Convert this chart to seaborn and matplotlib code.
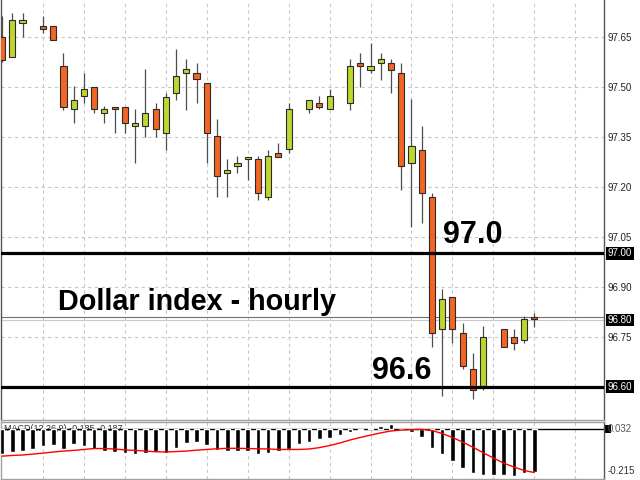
import numpy as np
import pandas as pd
import seaborn as sns
import matplotlib.pyplot as plt
import matplotlib.transforms as mtransforms
from matplotlib.patches import Rectangle

nan = np.nan

# hourly candles (gaps where the feed has no bar)
opens = [97.650, 97.590, 97.690, nan, 97.682, 97.682, 97.562, 97.432, 97.472, 97.500,
         97.422, 97.440, 97.440, 97.382, 97.382, 97.432, 97.360, 97.482, 97.542, 97.542,
         97.510, 97.352, 97.242, 97.262, 97.282, 97.282, 97.170, 97.300, 97.312, nan,
         97.432, 97.450, 97.432, nan, 97.450, 97.572, 97.550, 97.572, 97.572, 97.542,
         97.270, 97.310, 97.170, 96.772, 96.870, 96.760, 96.652, 96.602, nan, 96.772,
         96.750, 96.740, 96.810]
highs = [97.713, 97.722, 97.722, nan, 97.713, 97.682, 97.602, 97.502, 97.542, 97.500,
         97.442, 97.440, 97.440, 97.432, 97.552, 97.450, 97.480, 97.612, 97.582, 97.572,
         97.510, 97.402, 97.282, 97.292, 97.290, 97.292, 97.310, 97.332, 97.452, nan,
         97.460, 97.472, 97.492, nan, 97.582, 97.602, 97.632, 97.602, 97.582, 97.572,
         97.462, 97.382, 97.182, 96.892, 96.870, 96.792, 96.702, 96.782, nan, 96.772,
         96.772, 96.812, 96.822]
lows = [97.575, 97.588, 97.650, nan, 97.662, 97.640, 97.430, 97.390, 97.450, 97.422,
        97.390, 97.360, 97.360, 97.270, 97.350, 97.350, 97.310, 97.460, 97.430, 97.450,
        97.270, 97.170, 97.170, 97.242, 97.220, 97.160, 97.160, 97.290, 97.302, nan,
        97.422, 97.432, 97.432, nan, 97.430, 97.500, 97.542, 97.520, 97.480, 97.190,
        97.080, 97.090, 96.720, 96.572, 96.730, 96.652, 96.562, 96.590, nan, 96.720,
        96.710, 96.730, 96.780]
closes = [97.580, 97.700, 97.700, nan, 97.672, 97.640, 97.440, 97.460, 97.492, 97.432,
          97.432, 97.432, 97.390, 97.390, 97.422, 97.372, 97.470, 97.532, 97.552, 97.522,
          97.360, 97.232, 97.250, 97.270, 97.290, 97.182, 97.292, 97.290, 97.432, nan,
          97.460, 97.440, 97.472, nan, 97.562, 97.562, 97.562, 97.582, 97.550, 97.262,
          97.322, 97.182, 96.762, 96.862, 96.772, 96.662, 96.590, 96.750, nan, 96.720,
          96.730, 96.802, 96.802]

# MACD(12,26,9) histogram and signal
macd_hist = [-0.107, -0.098, -0.094, -0.084, -0.072, -0.069, -0.087, -0.065, -0.072, -0.087,
             -0.094, -0.098, -0.101, -0.108, -0.104, -0.098, -0.104, -0.080, -0.061, -0.055,
             -0.069, -0.090, -0.093, -0.095, -0.095, -0.106, -0.101, -0.094, -0.087, -0.065,
             -0.055, -0.043, -0.036, -0.026, -0.012, -0.003, 0.007, 0.014, 0.022, 0.001,
             -0.012, -0.032, -0.080, -0.108, -0.137, -0.166, -0.190, -0.199, -0.199, -0.199,
             -0.202, -0.190, -0.185]
macd_signal = [-0.116, -0.113, -0.111, -0.107, -0.103, -0.098, -0.094, -0.091, -0.087, -0.083,
               -0.083, -0.085, -0.089, -0.091, -0.094, -0.097, -0.098, -0.096, -0.094, -0.090,
               -0.087, -0.084, -0.082, -0.082, -0.083, -0.084, -0.085, -0.087, -0.087, -0.087,
               -0.085, -0.079, -0.070, -0.059, -0.046, -0.035, -0.025, -0.015, -0.007, -0.003,
               -0.001, 0.000, -0.005, -0.018, -0.035, -0.055, -0.077, -0.101, -0.124, -0.146,
               -0.163, -0.178, -0.187]

price_ticks = [97.65, 97.50, 97.35, 97.20, 97.05, 96.90, 96.75]
levels = [97.00, 96.60]
level_labels = ['97.0', '96.6']
last_price = 96.80

df = pd.DataFrame({'open': opens, 'high': highs, 'low': lows, 'close': closes,
                   'hist': macd_hist, 'signal': macd_signal})
df['idx'] = np.arange(len(df))

sns.set_style('white')
plt.rcParams['font.family'] = ['Liberation Sans', 'DejaVu Sans']

GREEN = '#bfd62f'
ORANGE = '#f26522'
GRID = '#c8c8c8'

fig = plt.figure(figsize=(6.4, 4.8), dpi=100)
ax = fig.add_axes([1 / 640, 60 / 480, 603 / 640, 420 / 480])
ax2 = fig.add_axes([1 / 640, 1 / 480, 603 / 640, 57 / 480])

# candles
candles = df.dropna(subset=['open'])
up = candles['close'] >= candles['open']
ax.vlines(candles['idx'], candles['low'], candles['high'], color='#4d4d4d', lw=0.9, zorder=3)
body = (candles['close'] - candles['open']).abs().clip(lower=0.007)
bottom = np.minimum(candles['open'], candles['close'])
ax.bar(candles['idx'], body, bottom=bottom, width=0.6,
       color=np.where(up, GREEN, ORANGE), edgecolor='#2b2b2b', lw=0.8, zorder=4)

# support / resistance levels and current price
for lvl in levels:
    ax.axhline(lvl, color='black', lw=2.3, zorder=5)
ax.axhline(last_price + 0.01, color='#707070', lw=0.8, zorder=2)
ax.axhline(last_price, color='#c8c8c8', lw=0.8, zorder=2)

ax.text(5.46, 96.830, 'Dollar index - hourly', fontsize=20.7, fontweight='bold',
        color='black', va='baseline', zorder=6)
ax.text(43.1, 97.030, level_labels[0], fontsize=22, fontweight='bold', color='black',
        va='baseline', zorder=6)
ax.text(36.1, 96.622, level_labels[1], fontsize=22, fontweight='bold', color='black',
        va='baseline', zorder=6)

ax.set_xlim(-0.105, 58.81)
ax.set_ylim(96.500, 97.760)
ax.set_xticks(np.arange(4, 57, 4))
ax.set_yticks(price_ticks + [96.60])
ax.set_yticklabels([f'{v:.2f}' for v in price_ticks] + [''])
ax.yaxis.tick_right()
ax.tick_params(axis='y', length=0, pad=2.5, labelsize=7, labelcolor='#222222')
ax.tick_params(axis='x', length=0, labelbottom=False)
ax.grid(True, ls=(0, (3, 3)), color=GRID, lw=0.8)
ax.set_axisbelow(True)
for side, col in [('left', '#555555'), ('right', '#555555'), ('bottom', '#a0a0a0')]:
    ax.spines[side].set_color(col)
    ax.spines[side].set_linewidth(1)
ax.spines['top'].set_visible(False)

trans = mtransforms.blended_transform_factory(ax.transAxes, ax.transData)
for v in levels + [last_price]:
    ax.text(1.0065, v, f'{v:.2f}', transform=trans, va='center', ha='left', fontsize=7,
            color='white', clip_on=False,
            bbox=dict(boxstyle='square,pad=0.15', fc='black', ec='none'))

# MACD panel
ax2.text(0.2, 0.003, 'MACD(12,26,9) -0.185 -0.187', fontsize=6.5, color='#333333',
         va='center', zorder=1)
sns.barplot(data=df, x='idx', y='hist', native_scale=True, width=0.45, color='black',
            saturation=1, errorbar=None, ax=ax2, zorder=3)
sns.lineplot(data=df, x='idx', y='signal', color='red', lw=1, ax=ax2, zorder=4)
ax2.axhline(0, color='black', lw=1, zorder=2)
ax2.set_xlim(-0.105, 58.81)
ax2.set_ylim(-0.215, 0.032)
ax2.set_xticks(np.arange(4, 57, 4))
ax2.set_yticks([])
ax2.tick_params(axis='x', length=0, labelbottom=False)
ax2.grid(True, axis='x', ls=(0, (3, 3)), color=GRID, lw=0.8)
ax2.set_axisbelow(True)
ax2.set_xlabel('')
ax2.set_ylabel('')
for side in ['left', 'right', 'bottom', 'top']:
    ax2.spines[side].set_color('#a0a0a0')
    ax2.spines[side].set_linewidth(1)
ax2.spines['right'].set_color('#555555')

trans2 = mtransforms.blended_transform_factory(ax2.transAxes, ax2.transData)
ax2.add_patch(Rectangle((1.002, -0.017), 0.01, 0.034, transform=trans2, fc='black',
                        ec='none', clip_on=False))
ax2.text(1.0065, 0.0, '0.032', transform=trans2, va='center', ha='left', fontsize=7,
         color='#555555', clip_on=False)
ax2.text(1.0065, -0.181, '-0.215', transform=trans2, va='center', ha='left', fontsize=7,
         color='#333333', clip_on=False)

fig.savefig('out.png', dpi=100)
